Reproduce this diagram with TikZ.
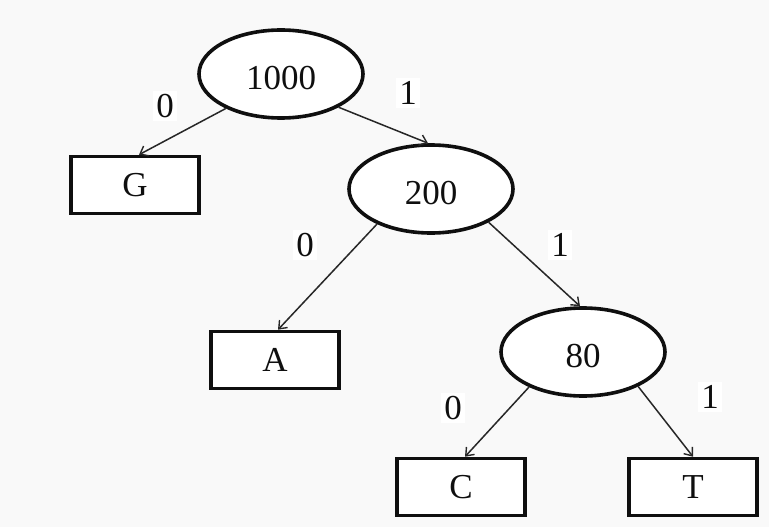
\documentclass[tikz,border=0pt]{standalone}
\usepackage{fontspec}
\setmainfont{Liberation Serif}
\usetikzlibrary{arrows.meta,shapes.geometric}
\definecolor{bgcol}{RGB}{249,249,249}
\definecolor{inkcol}{RGB}{15,15,15}
\begin{document}
\begin{tikzpicture}[x=1pt,y=-1pt,
  every node/.style={font=\fontsize{35}{40}\selectfont, text=inkcol},
  inner/.style={ellipse, draw=inkcol, line width=3.6pt, fill=white,
    minimum width=164pt, minimum height=88pt, inner sep=0pt,
    text height=30pt, text depth=0pt},
  leaf/.style={rectangle, draw=inkcol, line width=3.6pt, fill=white,
    minimum width=128pt, minimum height=57pt, inner sep=0pt},
  edgelbl/.style={fill=white, inner sep=3pt},
  branch/.style={draw=inkcol!90, line width=1.5pt,
    -{Straight Barb[length=7pt,width=11pt,line width=1.4pt]}}]
\fill[bgcol] (0,0) rectangle (769,527);
\useasboundingbox (0,0) rectangle (769,527);

\node[inner] (e1000) at (281,74) {1000};
\node[inner] (e200) at (431,189) {200};
\node[inner] (e80) at (583,352) {80};

\node[leaf] (G) at (135,185) {G};
\node[leaf] (A) at (275,360) {A};
\node[leaf] (C) at (461,487) {C};
\node[leaf] (T) at (693,487) {T};

\draw[branch] (e1000.212) -- ([xshift=4pt]G.north);
\draw[branch] (e1000.330) -- ([xshift=-3pt]e200.north);
\draw[branch] (e200.213) -- ([xshift=3pt]A.north);
\draw[branch] (e200.330) -- ([xshift=-3pt]e80.north);
\draw[branch] (e80.213) -- ([xshift=4pt]C.north);
\draw[branch] (e80.328) -- (T.north);

\node[edgelbl] (l1) at (165,106) {0};
\node[edgelbl] (l2) at (408,93) {1};
\node[edgelbl] (l3) at (305,245) {0};
\node[edgelbl] (l4) at (560,245) {1};
\node[edgelbl] (l5) at (453,408) {0};
\node[edgelbl] (l6) at (710,397) {1};
\end{tikzpicture}
\end{document}
